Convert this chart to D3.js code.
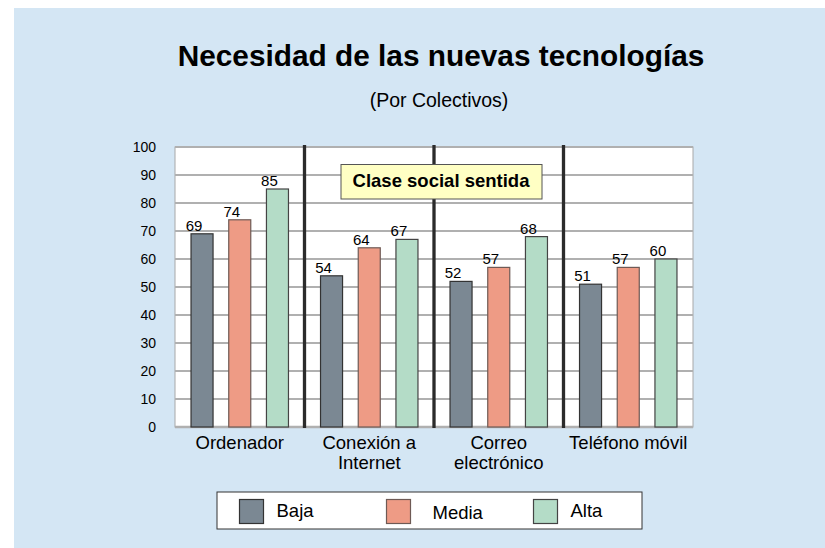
<html>
<head>
<meta charset="UTF-8">
<title>Necesidad de las nuevas tecnologías</title>
<script src="https://d3js.org/d3.v7.min.js"></script>
<style>
  body { margin: 0; background: #fff; }
  text { font-family: Arial, "Liberation Sans", sans-serif; fill: #000; }
</style>
</head>
<body>
<svg width="825" height="548"></svg>
<script>

// data
var categories = ["Ordenador", "Conexión a\nInternet", "Correo\nelectrónico", "Teléfono móvil"];
var series = ["Baja", "Media", "Alta"];
var baja  = [69, 54, 52, 51];
var media = [74, 64, 57, 57];
var alta  = [85, 67, 68, 60];
var yTicks = [0, 10, 20, 30, 40, 50, 60, 70, 80, 90, 100];
var colors = ["#7b8893", "#ee9b85", "#b4dcc7"];
var strokes = ["#333333", "#6e5a55", "#444444"];

var values = { "Baja": baja, "Media": media, "Alta": alta };

var svg = d3.select("svg");

// blue panel
svg.append("rect")
    .attr("x", 14).attr("y", 8)
    .attr("width", 811).attr("height", 540)
    .attr("fill", "#d4e6f4");

svg.append("text")
    .attr("x", 441).attr("y", 66)
    .attr("text-anchor", "middle")
    .attr("font-size", 29.8)
    .attr("font-weight", "bold")
    .text("Necesidad de las nuevas tecnologías");

svg.append("text")
    .attr("x", 439).attr("y", 107)
    .attr("text-anchor", "middle")
    .attr("font-size", 19.5)
    .text("(Por Colectivos)");

var x0 = d3.scaleBand()
    .domain(categories)
    .range([175, 693]);

var x1 = d3.scaleBand()
    .domain(series)
    .range([0, x0.bandwidth()])
    .paddingInner(0.416)
    .paddingOuter(0.425);

var y = d3.scaleLinear()
    .domain([0, 100])
    .range([427, 147]);

// plot area
svg.append("rect")
    .attr("x", x0.range()[0]).attr("y", y(100))
    .attr("width", x0.range()[1] - x0.range()[0])
    .attr("height", y(0) - y(100))
    .attr("fill", "#fff")
    .attr("stroke", "#a8a8a8");

svg.append("g")
  .selectAll("line")
  .data(yTicks)
  .enter().append("line")
    .attr("x1", x0.range()[0]).attr("x2", x0.range()[1])
    .attr("y1", function(d) { return y(d); })
    .attr("y2", function(d) { return y(d); })
    .attr("stroke", "#b0b0b0")
    .attr("stroke-width", function(d) { return d === 0 ? 2.5 : 1.8; });

var yAxis = svg.append("g")
    .attr("transform", "translate(156,0)")
    .call(d3.axisLeft(y).tickValues(yTicks).tickSize(0).tickPadding(0));
yAxis.select(".domain").remove();
yAxis.selectAll("text")
    .attr("font-size", 14)
    .attr("font-family", "Arial, 'Liberation Sans', sans-serif")
    .attr("fill", "#000");

// separators between categories
svg.append("g")
  .selectAll("line")
  .data(categories.slice(1))
  .enter().append("line")
    .attr("x1", function(d) { return x0(d); })
    .attr("x2", function(d) { return x0(d); })
    .attr("y1", y(100) - 2)
    .attr("y2", y(0) + 1)
    .attr("stroke", "#2b2b2b")
    .attr("stroke-width", 3.3);

var groups = svg.append("g")
  .selectAll("g")
  .data(categories)
  .enter().append("g")
    .attr("transform", function(d) { return "translate(" + x0(d) + ",0)"; });

groups.selectAll("rect")
  .data(function(d, i) {
    return series.map(function(s, j) { return { key: s, value: values[s][i], j: j }; });
  })
  .enter().append("rect")
    .attr("x", function(d) { return x1(d.key); })
    .attr("y", function(d) { return y(d.value); })
    .attr("width", x1.bandwidth())
    .attr("height", function(d) { return y(0) - y(d.value); })
    .attr("fill", function(d) { return colors[d.j]; })
    .attr("stroke", function(d) { return strokes[d.j]; })
    .attr("stroke-width", 1.2);

groups.selectAll("text.val")
  .data(function(d, i) {
    return series.map(function(s) { return { key: s, value: values[s][i] }; });
  })
  .enter().append("text")
    .attr("class", "val")
    .attr("x", function(d) { return x1(d.key) + x1.bandwidth() / 2 - 8; })
    .attr("y", function(d) { return y(d.value) - 3; })
    .attr("text-anchor", "middle")
    .attr("font-size", 15)
    .text(function(d) { return d.value; });

// category labels
var catLabels = svg.append("g")
  .selectAll("text")
  .data(categories)
  .enter().append("text")
    .attr("text-anchor", "middle")
    .attr("font-size", 18.5)
    .attr("x", function(d) { return x0(d) + x0.bandwidth() / 2; })
    .attr("y", 449);

catLabels.selectAll("tspan")
  .data(function(d) { return d.split("\n"); })
  .enter().append("tspan")
    .attr("x", function() { var p = this.parentNode; return p.getAttribute("x"); })
    .attr("dy", function(d, i) { return i === 0 ? 0 : 20; })
    .text(function(d) { return d; });

// annotation box
var note = svg.append("g");
note.append("rect")
    .attr("x", 341).attr("y", 164.5)
    .attr("width", 201).attr("height", 34.5)
    .attr("fill", "#ffffc4")
    .attr("stroke", "#555")
    .attr("stroke-width", 1);
note.append("text")
    .attr("x", 441).attr("y", 187)
    .attr("text-anchor", "middle")
    .attr("font-size", 18.5)
    .attr("font-weight", "bold")
    .text("Clase social sentida");

// legend
var legend = svg.append("g");
legend.append("rect")
    .attr("x", 217).attr("y", 492)
    .attr("width", 425).attr("height", 37)
    .attr("fill", "#fff")
    .attr("stroke", "#333");

var lx = d3.scalePoint()
    .domain(series)
    .range([239.5, 533.5]);

var items = legend.selectAll("g")
  .data(series)
  .enter().append("g")
    .attr("transform", function(d) { return "translate(" + lx(d) + ",499.5)"; });

items.append("rect")
    .attr("width", 24).attr("height", 24)
    .attr("fill", function(d, i) { return colors[i]; })
    .attr("stroke", function(d, i) { return strokes[i]; })
    .attr("stroke-width", 1.2);

items.append("text")
    .attr("x", function(d, i) { return i === 1 ? 46 : 37; })
    .attr("y", function(d, i) { return i === 1 ? 19.5 : 17; })
    .attr("font-size", 18.5)
    .text(function(d) { return d; });

</script>
</body>
</html>
